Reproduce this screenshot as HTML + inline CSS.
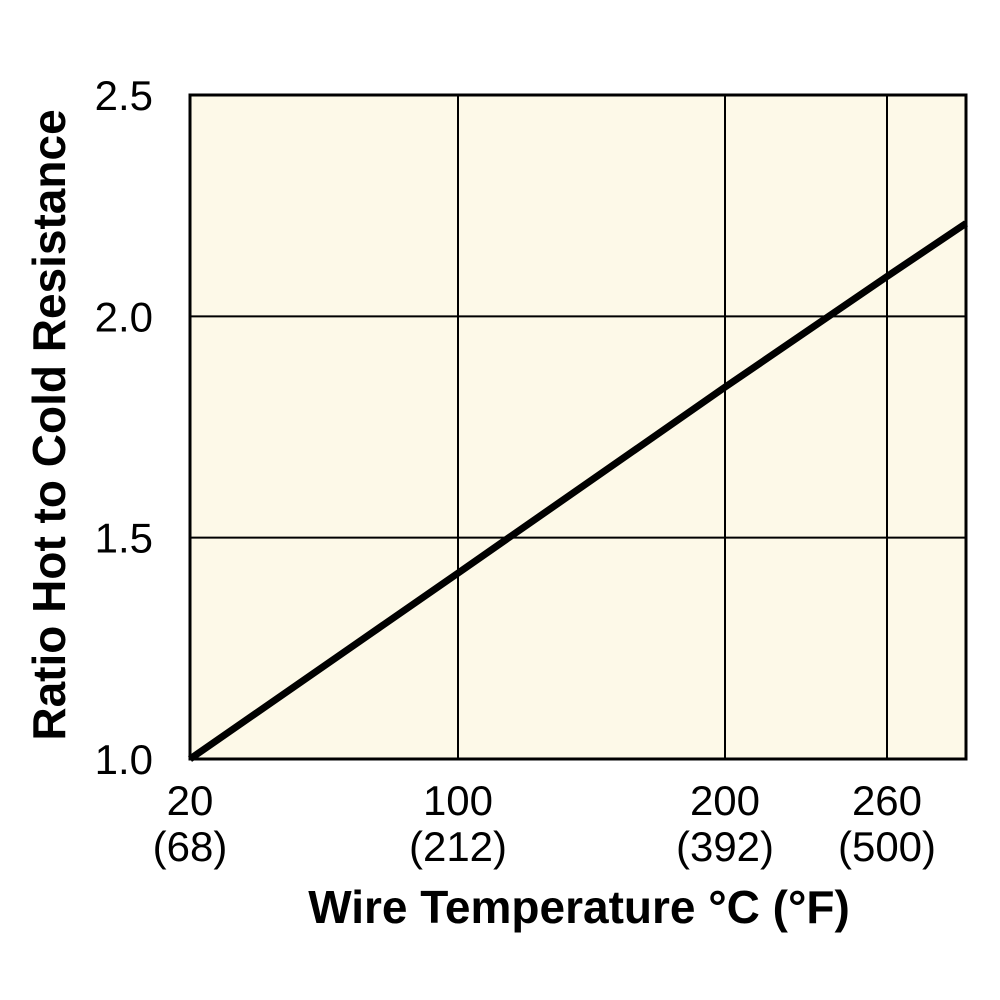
<!DOCTYPE html>
<html><head><meta charset="utf-8"><style>
html,body{margin:0;padding:0;background:#fff;}
svg{display:block;font-family:"Liberation Sans",Arial,sans-serif;}
</style></head><body>
<svg id="chart" width="1000" height="1000" viewBox="0 0 1000 1000">
<rect x="190" y="95" width="776" height="664" fill="#fdf9e8"/>
<g id="grid"></g>
<g id="series"></g>
<rect x="190" y="95" width="776" height="664" fill="none" stroke="#000" stroke-width="3"/>
<g id="ticks"></g>
<text x="579" y="923" font-size="46" font-weight="bold" text-anchor="middle">Wire Temperature °C (°F)</text>
<text transform="translate(65,425) rotate(-90)" font-size="46" font-weight="bold" text-anchor="middle">Ratio Hot to Cold Resistance</text>
</svg>
<script>
const xTicks=[20,100,200,260];
const xTickF=["(68)","(212)","(392)","(500)"];
const yTicks=[1.0,1.5,2.0,2.5];
const temps=[20,100,200,260,290];
const ratios=[1.0,1.42,1.84,2.09,2.21];
const NS="http://www.w3.org/2000/svg";
const xDom=[20,100,200,260,290], xPx=[190,458,725,887,966];
function xs(v){for(let i=0;i<xDom.length-1;i++){if(v<=xDom[i+1]||i===xDom.length-2){return xPx[i]+(v-xDom[i])*(xPx[i+1]-xPx[i])/(xDom[i+1]-xDom[i]);}}}
function ys(v){return 759-(v-1.0)*(664/1.5);}
function mk(tag,attrs,parent){const e=document.createElementNS(NS,tag);for(const k in attrs)e.setAttribute(k,attrs[k]);parent.appendChild(e);return e;}
const grid=document.getElementById('grid'),ticks=document.getElementById('ticks'),series=document.getElementById('series');
xTicks.forEach((t,i)=>{
 const x=xs(t);
 const g=mk('line',{x1:x,x2:x,y1:95,y2:759,stroke:'#000','stroke-width':2},grid);
 
 
 const a=mk('text',{x:x,y:815,'font-size':42,'text-anchor':'middle'},ticks);a.textContent=t;
 
 
 const b=mk('text',{x:x,y:861,'font-size':42,'text-anchor':'middle'},ticks);b.textContent=xTickF[i];
 
 
});
yTicks.forEach(t=>{
 const y=ys(t);
 const g=mk('line',{x1:190,x2:966,y1:y,y2:y,stroke:'#000','stroke-width':2},grid);
 
 
 const a=mk('text',{x:153,y:y+15,'font-size':42,'text-anchor':'end'},ticks);a.textContent=t.toFixed(1);
 
 
});
const pts=temps.map((t,i)=>xs(t)+','+ys(ratios[i])).join(' ');
const pl=mk('polyline',{points:pts,fill:'none',stroke:'#000','stroke-width':7,'stroke-linejoin':'round'},series);


</script>
</body></html>
